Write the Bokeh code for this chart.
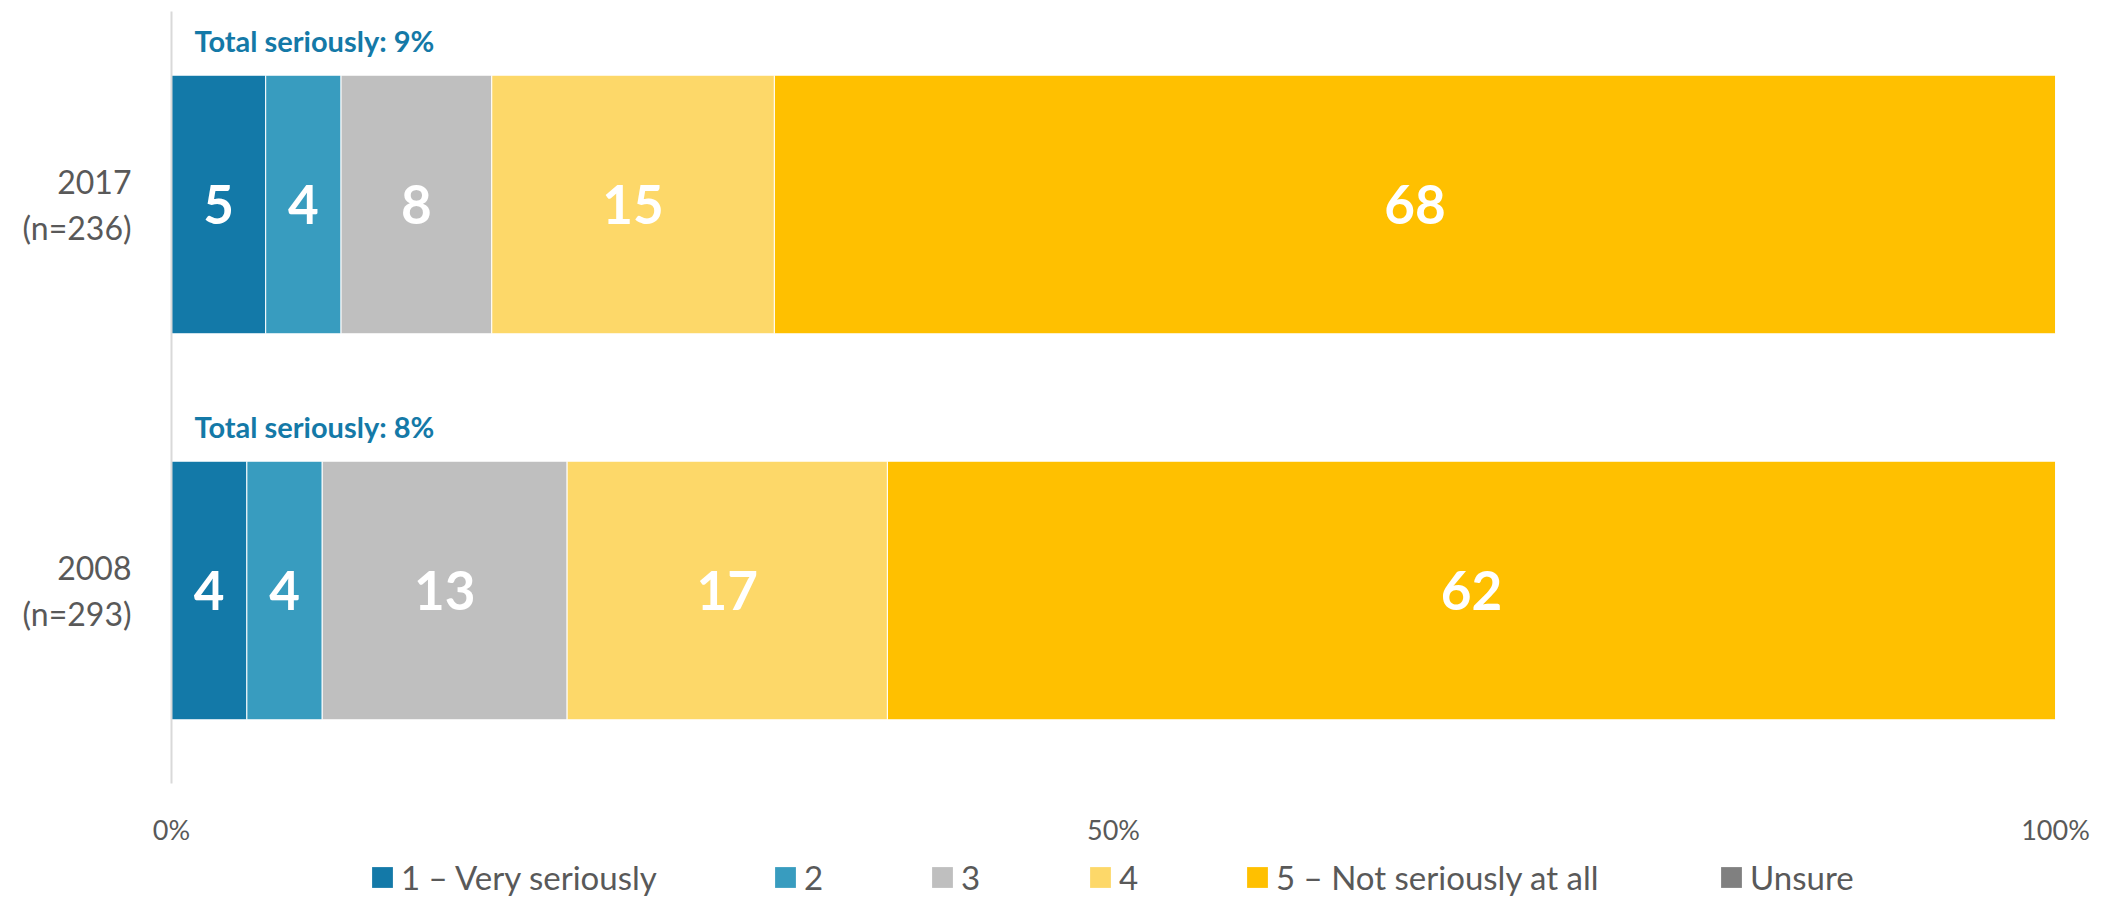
from bokeh.plotting import figure
from bokeh.models import (ColumnDataSource, Legend, LegendItem, FixedTicker, Range1d)
from bokeh.layouts import column
from bokeh.core.properties import value
from bokeh.embed import file_html
from bokeh.resources import INLINE

# ---- data ----
years = ["2017", "2008"]
sample_sizes = ["(n=236)", "(n=293)"]
series_names = ["1 \u2013 Very seriously", "2", "3", "4", "5 \u2013 Not seriously at all", "Unsure"]
very_seriously = [5, 4]
two = [4, 4]
three = [8, 13]
four = [15, 17]
not_seriously = [68, 62]
unsure = [0, 0]
total_seriously = [9, 8]
x_ticks = [0, 50, 100]
x_tick_labels = ["0%", "50%", "100%"]

colors = ["#1379A8", "#389CBF", "#BFBFBF", "#FDD869", "#FFC000", "#808080"]
FONT = "Lato"
LABEL_GAP = 0.06  # half-gap between the two lines of each category label (axis units)

series_values = [very_seriously, two, three, four, not_seriously, unsure]
n_cat = len(years)
y_pos = [n_cat - 1 - i for i in range(n_cat)]  # first category on top

p = figure(width=2100, height=857, output_backend="svg", toolbar_location=None,
           x_range=Range1d(0, 100), y_range=Range1d(-0.5, n_cat - 0.5),
           min_border_left=171, min_border_right=45, min_border_top=11, min_border_bottom=74)
p.outline_line_color = None
p.grid.visible = False

sources = []
lefts = [0.0] * n_cat
for name, vals, col in zip(series_names, series_values, colors):
    rights = [l + v for l, v in zip(lefts, vals)]
    src = ColumnDataSource(dict(y=y_pos, left=lefts, right=rights,
                                mid=[(l + r) / 2 for l, r in zip(lefts, rights)],
                                lab=[str(v) for v in vals]))
    sources.append(src)
    p.hbar(y="y", left="left", right="right", height=0.67, source=src,
           fill_color=col, line_color="white", line_width=1)
    if any(v > 0 for v in vals):
        p.text(x="mid", y="y", text="lab", source=src, text_color="white",
               text_font=value(FONT), text_font_style="bold", text_font_size="53px",
               text_align="center", text_baseline="middle")
    lefts = rights

tot_src = ColumnDataSource(dict(x=[0] * n_cat, y=y_pos,
                                t=[f"Total seriously: {v}%" for v in total_seriously]))
p.text(x="x", y="y", text="t", source=tot_src, x_offset=23, y_offset=-164,
       text_color="#1479A7", text_font=value(FONT), text_font_style="bold",
       text_font_size="29px", text_align="left", text_baseline="middle")

# x axis
xa = p.xaxis[0]
xa.ticker = FixedTicker(ticks=x_ticks)
xa.major_label_overrides = {t: l for t, l in zip(x_ticks, x_tick_labels)}
xa.axis_line_color = None
xa.major_tick_line_color = None
xa.minor_tick_line_color = None
xa.major_label_standoff = 23
xa.major_label_text_font = FONT
xa.major_label_text_font_size = "27px"
xa.major_label_text_color = "#595959"

# y axis: two-line category labels (year above, sample size below)
y_ticks, y_over = [], {}
for y, yr, n in zip(y_pos, years, sample_sizes):
    y_ticks += [y + LABEL_GAP, y - LABEL_GAP]
    y_over[y + LABEL_GAP] = yr
    y_over[y - LABEL_GAP] = n
ya = p.yaxis[0]
ya.ticker = FixedTicker(ticks=sorted(y_ticks))
ya.major_label_overrides = y_over
ya.axis_line_color = "#D9D9D9"
ya.axis_line_width = 2
ya.major_tick_line_color = None
ya.minor_tick_line_color = None
ya.major_label_standoff = 34
ya.major_label_text_font = FONT
ya.major_label_text_font_size = "32px"
ya.major_label_text_color = "#595959"

# ---- legend strip (frame is aligned with the chart's frame) ----
q = figure(width=2100, height=40, output_backend="svg", toolbar_location=None,
           x_range=Range1d(0, 1), y_range=Range1d(0, 1),
           x_axis_location=None, y_axis_location=None,
           min_border_left=171, min_border_right=45, min_border_top=0, min_border_bottom=0)
q.outline_line_color = None
q.grid.visible = False

legend_x = [198, 601, 758, 916, 1073, 1547]  # offsets from the frame's left edge
for name, col, src, lx in zip(series_names, colors, sources, legend_x):
    lr = q.hbar(y="y", left="left", right="right", height=0.67, source=src,
                fill_color=col, line_color=None, visible=False)
    lg = Legend(items=[LegendItem(label=name, renderers=[lr])], location=(lx, 0),
                orientation="horizontal", border_line_color=None, background_fill_alpha=0,
                padding=0, margin=0, glyph_width=26, glyph_height=26, label_standoff=6,
                label_text_font=FONT, label_text_font_size="33px", label_text_color="#595959",
                label_text_baseline="middle", click_policy="none")
    q.add_layout(lg, "center")

layout = column(p, q, spacing=0)
open("out.html", "w").write(file_html(layout, INLINE))
